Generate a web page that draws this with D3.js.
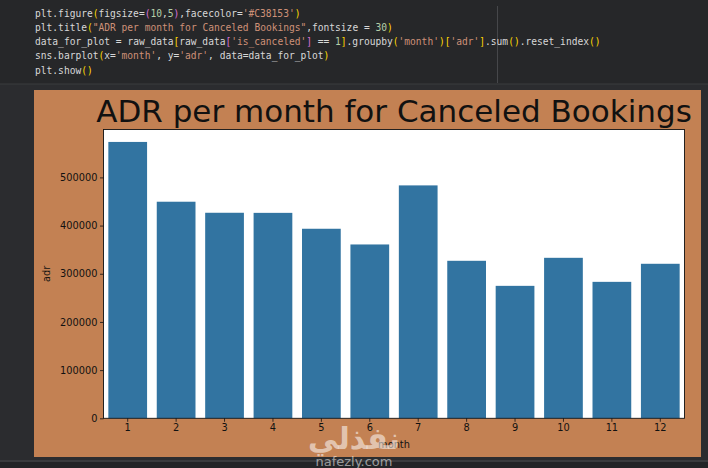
<!DOCTYPE html>
<html>
<head>
<meta charset="utf-8">
<script src="https://cdn.jsdelivr.net/npm/d3@7"></script>
<style>
  body { margin: 0; background: #2b2c2f; }
  svg { display: block; }
</style>
</head>
<body>
<div id="chart"></div>
<script>
// data
var months = ["1", "2", "3", "4", "5", "6", "7", "8", "9", "10", "11", "12"];
var adr = [573600, 449500, 426600, 426400, 393400, 360800, 483400, 326900, 274900, 333100, 283200, 320700];
var yTicks = [0, 100000, 200000, 300000, 400000, 500000];

// notebook code cell, token by token: [text, colour key]
var codeLines = [
  [["plt.figure", "t"], ["(", "p1"], ["figsize=", "t"], ["(", "p2"], ["10", "n"], [",", "t"], ["5", "n"], [")", "p2"], [",facecolor=", "t"], ["'#C38153'", "s"], [")", "p1"]],
  [["plt.title", "t"], ["(", "p1"], ["\"ADR per month for Canceled Bookings\"", "s"], [",fontsize = ", "t"], ["30", "n"], [")", "p1"]],
  [["data_for_plot = raw_data", "t"], ["[", "p1"], ["raw_data", "t"], ["[", "p2"], ["'is_canceled'", "s"], ["]", "p2"], [" == ", "t"], ["1", "n"], ["]", "p1"], [".groupby", "t"], ["(", "p1"], ["'month'", "s"], [")", "p1"], ["[", "p1"], ["'adr'", "s"], ["]", "p1"], [".sum", "t"], ["()", "p1"], [".reset_index", "t"], ["()", "p1"]],
  [["sns.barplot", "t"], ["(", "p1"], ["x=", "t"], ["'month'", "s"], [", y=", "t"], ["'adr'", "s"], [", data=data_for_plot", "t"], [")", "p1"]],
  [["plt.show", "t"], ["()", "p1"]]
];
var tokenColor = { t: "#d8d8d8", s: "#ce9178", n: "#b5cea8", p1: "#ffd700", p2: "#da70d6" };

var svgWidth = 708;
var svgHeight = 468;

var svg = d3.select("#chart")
  .append("svg")
  .attr("width", svgWidth)
  .attr("height", svgHeight);

// notebook chrome
svg.append("rect").attr("width", svgWidth).attr("height", 84).attr("fill", "#262729");
svg.append("line").attr("x1", 0).attr("x2", svgWidth).attr("y1", 84).attr("y2", 84)
  .attr("stroke", "#3b3c3f").attr("stroke-width", 1);
svg.append("line").attr("x1", 497.5).attr("x2", 497.5).attr("y1", 6).attr("y2", 83)
  .attr("stroke", "#46474a").attr("stroke-width", 1);
svg.append("line").attr("x1", 0).attr("x2", svgWidth).attr("y1", 461).attr("y2", 461)
  .attr("stroke", "#4a4b4e").attr("stroke-width", 1);
svg.append("rect").attr("y", 462).attr("width", svgWidth).attr("height", 6).attr("fill", "#232427");

var charW = 5.77;
codeLines.forEach(function(tokens, i) {
  var col = 0;
  var txt = svg.append("text")
    .attr("y", 16.5 + i * 14.3)
    .attr("font-family", "DejaVu Sans Mono")
    .attr("font-size", "9.6px")
    .attr("xml:space", "preserve");
  tokens.forEach(function(tk) {
    txt.append("tspan")
      .attr("x", 35 + col * charW)
      .attr("fill", tokenColor[tk[1]])
      .text(tk[0]);
    col += tk[0].length;
  });
});

// figure
svg.append("rect")
  .attr("x", 34).attr("y", 90)
  .attr("width", 667).attr("height", 367)
  .attr("fill", "#C38153");

var plot = { left: 103.5, right: 684.5, top: 129.5, bottom: 418.3 };

var xScale = d3.scaleBand()
  .domain(months)
  .range([plot.left, plot.right])
  .paddingInner(0.2)
  .paddingOuter(0.1);

var yScale = d3.scaleLinear()
  .domain([0, d3.max(adr) * 1.045])
  .range([plot.bottom, plot.top]);

svg.append("rect")
  .attr("x", plot.left).attr("y", plot.top)
  .attr("width", plot.right - plot.left).attr("height", plot.bottom - plot.top)
  .attr("fill", "white");

svg.selectAll("rect.bar")
  .data(adr)
  .enter()
  .append("rect")
  .attr("class", "bar")
  .attr("x", (d, i) => xScale(months[i]))
  .attr("y", d => yScale(d))
  .attr("width", xScale.bandwidth())
  .attr("height", d => plot.bottom - yScale(d))
  .attr("fill", "#3274a1");

var bottomAxis = d3.axisBottom(xScale).tickSize(3.5).tickPadding(2.5).tickSizeOuter(0);
var leftAxis = d3.axisLeft(yScale).tickValues(yTicks).tickFormat(d3.format("d"))
  .tickSize(3.5).tickPadding(2.5).tickSizeOuter(0);

var gx = svg.append("g")
  .attr("transform", `translate(0, ${plot.bottom})`)
  .call(bottomAxis);
var gy = svg.append("g")
  .attr("transform", `translate(${plot.left}, 0)`)
  .call(leftAxis);

[gx, gy].forEach(function(g) {
  g.select(".domain").remove();
  g.selectAll("line").attr("stroke", "#111").attr("stroke-width", 0.8);
  g.selectAll("text")
    .attr("fill", "#111")
    .attr("font-family", "DejaVu Sans")
    .attr("font-size", "9.8px");
});

// spines
svg.append("rect")
  .attr("x", plot.left).attr("y", plot.top)
  .attr("width", plot.right - plot.left).attr("height", plot.bottom - plot.top)
  .attr("fill", "none")
  .attr("stroke", "#111")
  .attr("stroke-width", 0.9);

svg.append("text")
  .attr("x", (plot.left + plot.right) / 2)
  .attr("y", 121.7)
  .attr("text-anchor", "middle")
  .attr("font-family", "DejaVu Sans")
  .attr("font-size", "31px")
  .attr("fill", "#111")
  .text("ADR per month for Canceled Bookings");

svg.append("text")
  .attr("transform", `translate(50, ${(plot.top + plot.bottom) / 2}) rotate(-90)`)
  .attr("text-anchor", "middle")
  .attr("font-family", "DejaVu Sans")
  .attr("font-size", "9.8px")
  .attr("fill", "#111")
  .text("adr");

svg.append("text")
  .attr("x", (plot.left + plot.right) / 2)
  .attr("y", 448)
  .attr("text-anchor", "middle")
  .attr("font-family", "DejaVu Sans")
  .attr("font-size", "9.8px")
  .attr("fill", "#111")
  .text("month");

// site watermark, laid over the axis labels as in the screenshot
svg.append("text")
  .attr("x", 354).attr("y", 449)
  .attr("text-anchor", "middle")
  .attr("font-family", "DejaVu Sans")
  .attr("font-weight", "bold")
  .attr("font-size", "30px")
  .attr("fill", "rgba(255,255,255,0.55)")
  .text("نفذلي");

svg.append("text")
  .attr("x", 354).attr("y", 465.5)
  .attr("text-anchor", "middle")
  .attr("font-family", "DejaVu Sans")
  .attr("font-size", "13px")
  .attr("fill", "rgba(255,255,255,0.55)")
  .text("nafezly.com");
</script>
</body>
</html>
